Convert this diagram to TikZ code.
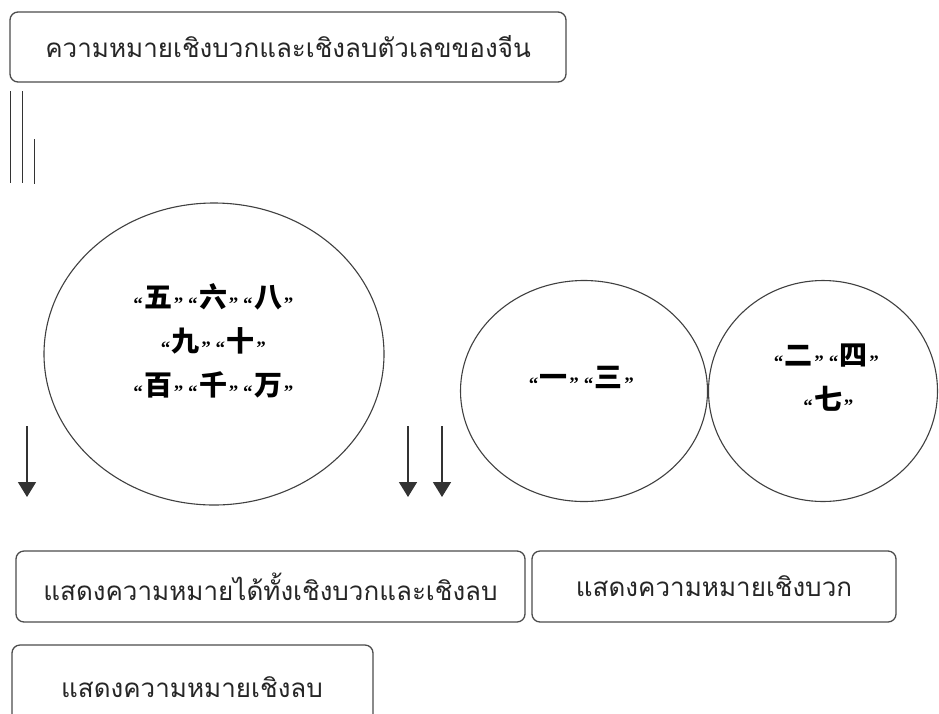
\documentclass[tikz,border=0pt]{standalone}
\usepackage{fontspec}
\usetikzlibrary{shapes.geometric,arrows.meta}
\newfontfamily\thaifont[Script=Thai]{Loma}
\newfontfamily\cjkfont{Noto Sans CJK SC}
\newfontfamily\qfont{Liberation Serif}
\newcommand\qon{{\qfont\bfseries\fontsize{19}{19}\selectfont\hspace{2.5pt}\raisebox{-3pt}{“}\hspace{1.5pt}}}
\newcommand\qoff{{\qfont\bfseries\fontsize{19}{19}\selectfont\hspace{1.5pt}\raisebox{-3pt}{”}\hspace{2.5pt}}}
\newcommand\zq[1]{\qon#1\qoff}
\tikzset{
  rbox/.style={draw=black!70, line width=1.3pt, rounded corners=8pt, inner sep=0pt,
    font=\thaifont\fontsize{26}{30}\selectfont, text=black!85},
  ring/.style={draw=black!75, line width=1.1pt, ellipse, inner sep=0pt},
  cjk/.style={font=\cjkfont\bfseries\fontsize{28}{30}\selectfont, inner sep=0pt},
  vline/.style={draw=black!80, line width=0.9pt},
  darrow/.style={draw=black!80, line width=1.6pt, -{Triangle[width=18pt,length=15pt]}}
}
\begin{document}
\begin{tikzpicture}[x=1pt,y=-1pt]
\useasboundingbox (0,0) rectangle (939,713);
\fill[white] (0,0) rectangle (939,713);
\clip (0,0) rectangle (939,713);
% top box
\node[rbox, minimum width=556pt, minimum height=70pt] (top) at (288,47) {ความหมายเชิงบวกและเชิงลบตัวเลขของจีน};
% vertical lines
\coordinate (l1a) at (10,91); \coordinate (l1b) at (10,183);
\coordinate (l2a) at (22,91); \coordinate (l2b) at (22,183);
\coordinate (l3a) at (34,139); \coordinate (l3b) at (34,184);
\draw[vline] (l1a) -- (l1b);
\draw[vline] (l2a) -- (l2b);
\draw[vline] (l3a) -- (l3b);
% ellipses
\node[ring, minimum width=340pt, minimum height=302pt] (big) at (214,354) {};
\node[ring, minimum width=247pt, minimum height=221pt] (mid) at (584,391) {};
\node[ring, minimum width=229pt, minimum height=221pt] (rgt) at (823,391) {};
% chinese texts
\node[cjk] (b1) at (212,297) {\zq{五}\zq{六}\zq{八}};
\node[cjk] (b2) at (212,341) {\zq{九}\zq{十}};
\node[cjk] (b3) at (212,385) {\zq{百}\zq{千}\zq{万}};
\node[cjk] (m1) at (580,378) {\zq{一}\zq{三}};
\node[cjk] (r1) at (825,356) {\zq{二}\zq{四}};
\node[cjk] (r2) at (827,399) {\zq{七}};
% arrows
\coordinate (a1s) at (27,426); \coordinate (a1e) at (27,497);
\coordinate (a2s) at (408,426); \coordinate (a2e) at (408,497);
\coordinate (a3s) at (442,426); \coordinate (a3e) at (442,497);
\draw[darrow] (a1s) -- (a1e);
\draw[darrow] (a2s) -- (a2e);
\draw[darrow] (a3s) -- (a3e);
% bottom boxes
\node[rbox, minimum width=509pt, minimum height=71pt] (both) at (270.5,586.5) {แสดงความหมายได้ทั้งเชิงบวกและเชิงลบ};
\node[rbox, minimum width=364pt, minimum height=71pt] (pos) at (714,586.5) {แสดงความหมายเชิงบวก};
\node[rbox, minimum width=361pt, minimum height=80pt] (neg) at (192.5,685) {};
\node[font=\thaifont\fontsize{26}{30}\selectfont, text=black!85] (negt) at (192,687) {แสดงความหมายเชิงลบ};
\end{tikzpicture}
\end{document}
